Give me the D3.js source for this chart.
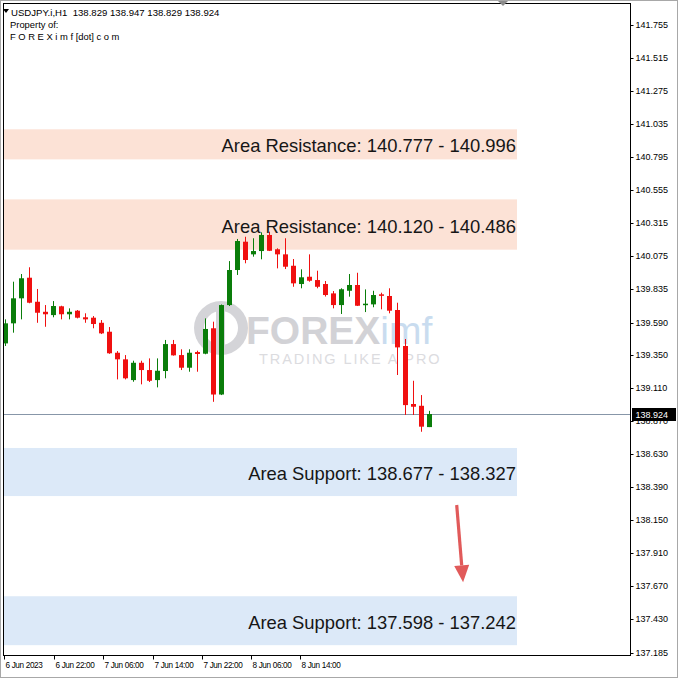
<!DOCTYPE html>
<html><head><meta charset="utf-8">
<script src="https://cdn.jsdelivr.net/npm/d3@7"></script>
<style>html,body{margin:0;padding:0;background:#fff;}svg{display:block;font-family:"Liberation Sans",Arial,sans-serif;}</style>
</head><body>
<script>
// ---- DATA ----
const symbolInfo = "USDJPY.i,H1  138.829 138.947 138.829 138.924";
const headerLines = ["Property of:", "F O R E X i m f [dot] c o m"];
const opens  = [139.438,139.584,139.766,139.916,139.741,139.668,139.644,139.708,139.650,139.676,139.628,139.625,139.588,139.523,139.370,139.322,139.171,139.297,139.244,139.171,139.237,139.433,139.353,139.261,139.375,139.363,139.548,139.066,139.717,139.972,140.178,140.086,140.110,140.227,140.123,140.086,140.003,139.870,139.923,139.899,139.870,139.802,139.717,139.821,139.863,139.719,139.722,139.795,139.783,139.681,139.419,138.997,138.984,138.829];
const highs  = [139.613,139.887,139.943,139.992,139.834,139.717,139.746,139.712,139.693,139.681,139.657,139.637,139.608,139.557,139.382,139.353,139.312,139.312,139.329,139.329,139.463,139.463,139.395,139.395,139.385,139.620,139.596,139.721,140.037,140.198,140.214,140.203,140.246,140.251,140.130,140.203,140.052,139.977,140.086,139.967,139.892,139.819,139.839,139.943,139.952,139.831,139.821,139.807,139.839,139.734,139.470,139.166,139.062,138.947];
const lows   = [139.419,139.516,139.613,139.730,139.588,139.559,139.628,139.613,139.613,139.620,139.588,139.548,139.506,139.362,139.176,139.176,139.159,139.140,139.157,139.118,139.184,139.349,139.244,139.232,139.232,139.359,139.013,139.062,139.710,139.936,140.021,140.069,140.050,140.110,139.984,139.979,139.850,139.839,139.887,139.839,139.779,139.693,139.652,139.778,139.710,139.666,139.701,139.686,139.657,139.208,138.917,138.917,138.795,138.829];
const closes = [139.584,139.766,139.912,139.734,139.661,139.650,139.710,139.650,139.668,139.625,139.613,139.579,139.511,139.366,139.322,139.184,139.297,139.244,139.166,139.239,139.433,139.351,139.261,139.370,139.361,139.543,139.066,139.717,139.972,140.183,140.045,140.110,140.227,140.112,140.086,139.996,139.875,139.919,139.894,139.850,139.790,139.717,139.832,139.863,139.712,139.727,139.790,139.785,139.676,139.409,138.989,138.977,138.832,138.924];
const currentPrice = 138.924;
const yTickValues = [141.755,141.515,141.275,141.035,140.795,140.555,140.315,140.075,139.835,139.590,139.350,139.110,138.870,138.630,138.390,138.150,137.910,137.670,137.430,137.185];
const timeLabels = ["6 Jun 2023","6 Jun 22:00","7 Jun 06:00","7 Jun 14:00","7 Jun 22:00","8 Jun 06:00","8 Jun 14:00"];
const timeLabelBars = [-0.2, 6, 12.2, 18.4, 24.5, 30.65, 36.8];
const zoneLabels = ["Area Resistance: 140.777 - 140.996","Area Resistance: 140.120 - 140.486","Area Support: 138.677 - 138.327","Area Support: 137.598 - 137.242"];
const zoneLow  = [140.777, 140.120, 138.327, 137.242];
const zoneHigh = [140.996, 140.486, 138.677, 137.598];
const zoneType = ["res","res","sup","sup"];
const arrowFrom = [56.4, 138.262];
const arrowTo   = [57.2, 137.700];

// ---- LAYOUT ----
const W = 678, H = 678;
const plot = {left: 3.5, top: 3.5, right: 630.5, bottom: 655.5};
const zoneEndBar = 63.94;
const colors = {up: "#0a7d0a", down: "#f01010", res: "#fce2d6", sup: "#dce9f8"};

const svg = d3.select("body").append("svg").attr("width", W).attr("height", H);
svg.append("rect").attr("width", W).attr("height", H).attr("fill", "#fff");

const x = d3.scaleLinear().domain([0, 53]).range([5.5, 429.5]);
const y = d3.scaleLinear().domain([137.185, 141.755]).range([653, 25]);

svg.append("defs").append("clipPath").attr("id", "plotclip")
  .append("rect").attr("x", plot.left + 0.5).attr("y", plot.top + 0.5)
  .attr("width", plot.right - plot.left - 1).attr("height", plot.bottom - plot.top - 1);

const g = svg.append("g").attr("clip-path", "url(#plotclip)");

// zones
const zones = zoneLabels.map((t, i) => ({t, lo: zoneLow[i], hi: zoneHigh[i], type: zoneType[i]}));
g.selectAll("rect.zone").data(zones).join("rect").attr("class", "zone")
  .attr("x", plot.left).attr("width", x(zoneEndBar) - plot.left)
  .attr("y", d => y(d.hi)).attr("height", d => y(d.lo) - y(d.hi))
  .attr("fill", d => colors[d.type]);

// watermark
const wm = g.append("g");
wm.append("circle").attr("cx", 221).attr("cy", 328).attr("r", 27).attr("fill", "#d4d4d8");
wm.append("circle").attr("cx", 221).attr("cy", 328).attr("r", 17).attr("fill", "#fff");
wm.append("rect").attr("x", 216).attr("y", 306).attr("width", 9).attr("height", 44).attr("fill", "#d4d4d8");
wm.append("text").attr("x", 246).attr("y", 344).attr("font-size", 39).attr("font-weight", "bold")
  .attr("fill", "#d2d2d6").text("FOREX")
  .append("tspan").attr("font-weight", "normal").attr("fill", "#c9dcef").text("imf");
wm.append("text").attr("x", 259).attr("y", 364).attr("font-size", 14.5).attr("letter-spacing", 1.9)
  .attr("fill", "#dcdcdf").text("TRADING LIKE A PRO");

// current price line
g.append("line").attr("x1", plot.left).attr("x2", plot.right)
  .attr("y1", Math.round(y(currentPrice)) + 0.5).attr("y2", Math.round(y(currentPrice)) + 0.5)
  .attr("stroke", "#8796a8").attr("stroke-width", 1);

// candles
const candles = opens.map((o, i) => ({i, o, h: highs[i], l: lows[i], c: closes[i]}));
const cg = g.selectAll("g.candle").data(candles).join("g").attr("class", "candle");
cg.append("line")
  .attr("x1", d => x(d.i)).attr("x2", d => x(d.i))
  .attr("y1", d => y(d.h)).attr("y2", d => y(d.l))
  .attr("stroke", d => d.c >= d.o ? colors.up : colors.down).attr("stroke-width", 1);
cg.append("rect")
  .attr("x", d => x(d.i) - 2.5).attr("width", 5)
  .attr("y", d => y(Math.max(d.o, d.c)))
  .attr("height", d => Math.max(1.5, Math.abs(y(d.o) - y(d.c))))
  .attr("fill", d => d.c >= d.o ? colors.up : colors.down);

// zone texts
g.selectAll("text.zt").data(zones).join("text").attr("class", "zt")
  .attr("x", x(zoneEndBar) - 1).attr("y", d => (y(d.hi) + y(d.lo)) / 2 + 8)
  .attr("text-anchor", "end").attr("font-size", 18.4).attr("fill", "#161616")
  .text(d => d.t);

// arrow
const ax1 = x(arrowFrom[0]), ay1 = y(arrowFrom[1]), ax2 = x(arrowTo[0]), ay2 = y(arrowTo[1]);
const ang = Math.atan2(ay2 - ay1, ax2 - ax1);
const headLen = 17, headHalf = 7.5;
const bx = ax2 - headLen * Math.cos(ang), by = ay2 - headLen * Math.sin(ang);
g.append("line").attr("x1", ax1).attr("y1", ay1).attr("x2", bx).attr("y2", by)
  .attr("stroke", "#e15a5a").attr("stroke-width", 3.2);
g.append("path").attr("d", `M${ax2},${ay2}L${bx - headHalf * Math.sin(ang)},${by + headHalf * Math.cos(ang)}L${bx + headHalf * Math.sin(ang)},${by - headHalf * Math.cos(ang)}Z`)
  .attr("fill", "#e15a5a");

// header
svg.append("path").attr("d", "M3,9 L9,9 L6,13 Z").attr("fill", "#000");
svg.append("text").attr("x", 11).attr("y", 16).attr("font-size", 9.6).attr("fill", "#000")
  .attr("xml:space", "preserve").style("white-space", "pre").text(symbolInfo);
svg.selectAll("text.hl").data(headerLines).join("text").attr("class", "hl")
  .attr("x", 10).attr("y", (d, i) => 28 + i * 12).attr("font-size", 9.4).attr("fill", "#000")
  .text(d => d);

// frames
svg.append("rect").attr("x", 0.5).attr("y", 0.5).attr("width", W - 1).attr("height", H - 1)
  .attr("fill", "none").attr("stroke", "#a8a8a8");
svg.append("rect").attr("x", plot.left).attr("y", plot.top)
  .attr("width", plot.right - plot.left).attr("height", plot.bottom - plot.top)
  .attr("fill", "none").attr("stroke", "#000");
svg.append("path").attr("d", "M498,1 L508,1 L503,6 Z").attr("fill", "#8c8c8c");

// y axis
const yAxis = d3.axisRight(y).tickValues(yTickValues).tickFormat(d3.format(".3f"))
  .tickSize(3).tickSizeOuter(0).tickPadding(2);
const ya = svg.append("g").attr("transform", `translate(${plot.right},0)`).call(yAxis);
ya.select(".domain").remove();
ya.selectAll("line").attr("stroke", "#000");
ya.selectAll("text").attr("font-size", 9).attr("font-family", "Liberation Sans, Arial, sans-serif").attr("fill", "#000");
ya.selectAll(".tick").attr("transform", d => `translate(0,${Math.round(y(d)) + 0.5})`);

// current price label
const cpY = Math.round(y(currentPrice)) + 0.5;
svg.append("rect").attr("x", plot.right + 1.5).attr("y", cpY - 6.5).attr("width", 44).attr("height", 13).attr("fill", "#000");
svg.append("text").attr("x", plot.right + 5).attr("y", cpY + 3.5).attr("font-size", 9).attr("fill", "#fff")
  .text(d3.format(".3f")(currentPrice));

// x axis
const xAxis = d3.axisBottom(x).tickValues(timeLabelBars).tickFormat((d, i) => timeLabels[i])
  .tickSize(4).tickSizeOuter(0).tickPadding(3);
const xa = svg.append("g").attr("transform", `translate(0,${plot.bottom})`).call(xAxis);
xa.select(".domain").remove();
xa.selectAll("line").attr("stroke", "#000");
xa.selectAll(".tick").attr("transform", d => `translate(${Math.round(x(d)) + 0.5},0)`);
xa.selectAll("text").attr("text-anchor", "start").attr("dx", 1).attr("font-size", 8.2)
  .attr("letter-spacing", -0.35).attr("font-family", "Liberation Sans, Arial, sans-serif").attr("fill", "#000");
</script>
</body></html>
